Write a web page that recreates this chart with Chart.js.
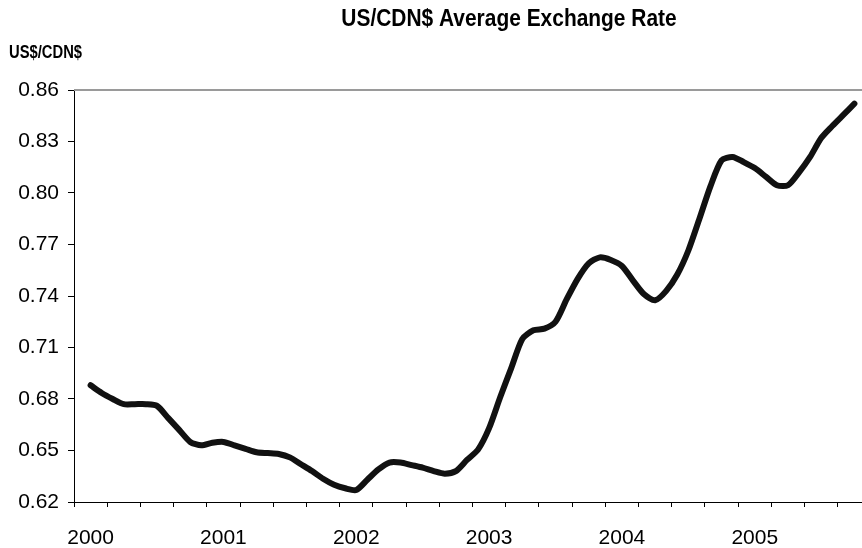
<!DOCTYPE html>
<html>
<head>
<meta charset="utf-8">
<title>US/CDN$ Average Exchange Rate</title>
<script src="https://cdn.jsdelivr.net/npm/chart.js@4.4.1/dist/chart.umd.min.js"></script>
<style>
  html, body { margin: 0; padding: 0; background: #fff; overflow: hidden; }
  #wrap { width: 872px; height: 548px; }
</style>
</head>
<body>
<div id="wrap"><canvas id="fx" width="872" height="548"></canvas></div>
<script>
// Monthly average exchange rate, US$ per CDN$, February 2000 to November 2005
const firstMonth = 1;            // months counted from January 2000 (1 = February)
const rate = [
  0.688, 0.6835, 0.680, 0.677, 0.677, 0.677, 0.676, 0.669, 0.662, 0.655, 0.653,
  0.6545, 0.655, 0.653, 0.651, 0.649, 0.6485, 0.648, 0.646, 0.642, 0.638, 0.6335, 0.630,
  0.628, 0.627, 0.633, 0.639, 0.643, 0.643, 0.6415, 0.640, 0.638, 0.6365, 0.638, 0.6445,
  0.6505, 0.663, 0.681, 0.698, 0.715, 0.720, 0.721, 0.725, 0.738, 0.750, 0.759, 0.7625,
  0.761, 0.7575, 0.749, 0.741, 0.7375, 0.743, 0.7525, 0.7665, 0.785, 0.804, 0.819, 0.821,
  0.818, 0.8145, 0.8095, 0.8045, 0.8045, 0.812, 0.821, 0.832, 0.839, 0.8455, 0.852
];
const years = ['2000', '2001', '2002', '2003', '2004', '2005'];
const yTicks = [0.62, 0.65, 0.68, 0.71, 0.74, 0.77, 0.80, 0.83, 0.86];

const titleText = 'US/CDN$ Average Exchange Rate';
const unitText = 'US$/CDN$';

// each month sits in the middle of its slot on the month axis
const points = rate.map((v, k) => ({ x: firstMonth + k + 0.5, y: v }));

// tick marks every quarter, year labels centred on each year's first quarter
const xTickValues = [];
for (let m = 0; m <= 72; m += 1.5) xTickValues.push(m);

// draws text with its glyphs narrowed horizontally (condensed look)
function narrowText(ctx, text, x, y, squeeze) {
  ctx.save();
  ctx.translate(x, y);
  ctx.scale(squeeze, 1);
  ctx.fillText(text, 0, 0);
  ctx.restore();
}

const headings = {
  id: 'headings',
  afterDraw(chart) {
    const ctx = chart.ctx;
    const area = chart.chartArea;
    ctx.save();
    // plot frame top edge
    ctx.strokeStyle = '#9a9a9a';
    ctx.lineWidth = 2;
    ctx.beginPath();
    ctx.moveTo(area.left, area.top);
    ctx.lineTo(area.right, area.top);
    ctx.stroke();
    ctx.fillStyle = '#000';
    ctx.textBaseline = 'middle';
    ctx.font = 'bold 23px "Liberation Sans", Arial, sans-serif';
    ctx.textAlign = 'center';
    narrowText(ctx, titleText, 509, 20, 0.91);
    ctx.textAlign = 'left';
    ctx.font = 'bold 18px "Liberation Sans", Arial, sans-serif';
    narrowText(ctx, unitText, 9, 53, 0.82);
    ctx.restore();
  }
};

new Chart(document.getElementById('fx'), {
  type: 'line',
  data: {
    datasets: [{
      data: points,
      borderColor: '#111',
      borderWidth: 6,
      borderCapStyle: 'round',
      borderJoinStyle: 'round',
      pointRadius: 0,
      tension: 0.25,
      fill: false
    }]
  },
  options: {
    responsive: false,
    devicePixelRatio: 1,
    animation: false,
    layout: { padding: { top: 90, right: 1, left: 0, bottom: 0 } },
    plugins: { legend: { display: false }, title: { display: false }, tooltip: { enabled: false } },
    scales: {
      x: {
        type: 'linear',
        min: 0,
        max: 72,
        afterBuildTicks(scale) { scale.ticks = xTickValues.map(v => ({ value: v })); },
        afterFit(scale) {
          scale.height = 46;
          scale.paddingLeft = 0;
          scale.paddingRight = 0;
        },
        border: { display: true, color: '#000', width: 1 },
        grid: {
          drawOnChartArea: false,
          drawTicks: true,
          tickLength: 5,
          color: ctx => (ctx.tick && ctx.tick.value % 3 === 0) ? '#000' : 'rgba(0,0,0,0)'
        },
        ticks: {
          autoSkip: false,
          maxRotation: 0,
          color: '#000',
          padding: 19,
          font: { family: '"Liberation Sans", Arial, sans-serif', size: 21 },
          callback: v => {
            const k = (v - 1.5) / 12;
            return Number.isInteger(k) && years[k] ? years[k] : '';
          }
        }
      },
      y: {
        min: 0.62,
        max: 0.86,
        afterBuildTicks(scale) { scale.ticks = yTicks.map(v => ({ value: v })); },
        afterFit(scale) {
          scale.width = 74;
          scale.paddingTop = 0;
          scale.paddingBottom = 0;
        },
        border: { display: true, color: '#000', width: 1 },
        grid: { drawOnChartArea: false, drawTicks: true, tickLength: 6, color: '#000' },
        ticks: {
          color: '#000',
          padding: 9,
          font: { family: '"Liberation Sans", Arial, sans-serif', size: 21 },
          callback: v => Number(v).toFixed(2)
        }
      }
    }
  },
  plugins: [headings]
});
</script>
</body>
</html>
